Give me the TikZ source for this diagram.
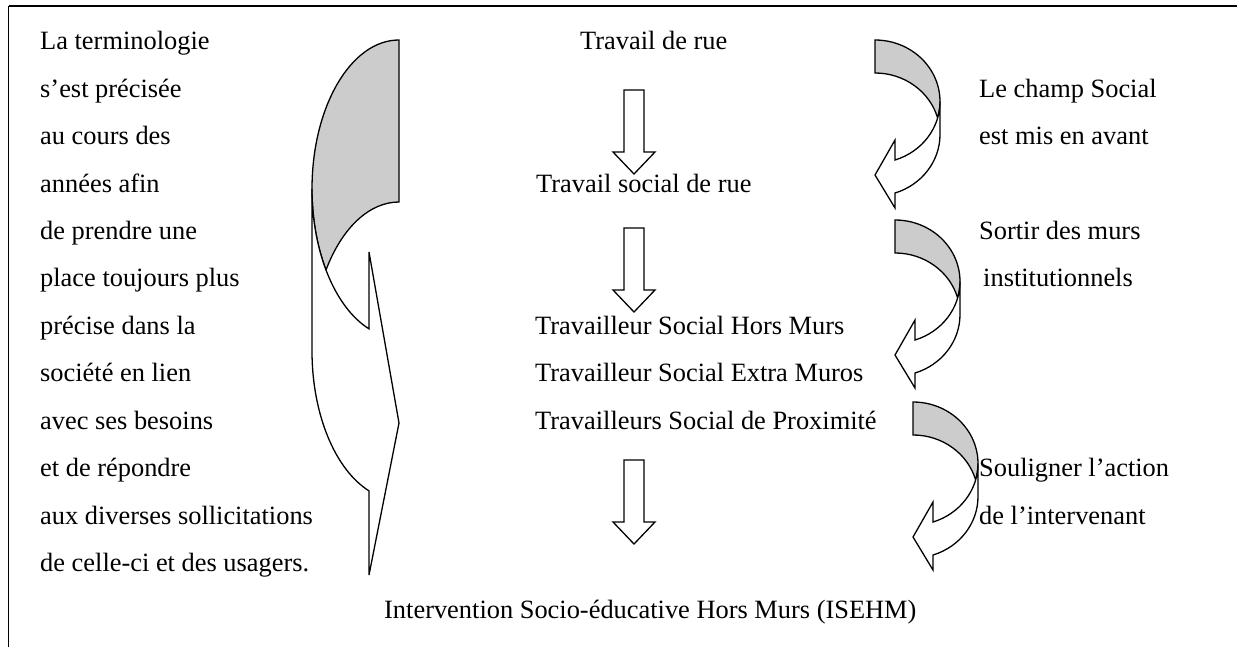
\documentclass[tikz,border=0pt]{standalone}
\usepackage{fontspec}
\setmainfont{Liberation Serif}
\definecolor{shade}{RGB}{204,204,204}
\begin{document}
\begin{tikzpicture}[x=1pt,y=1pt,
  shp/.style={draw=black, line width=1.3pt, line join=miter},
  txt/.style={inner sep=0pt, anchor=base west, font=\fontsize{26.4}{30}\selectfont},
  rarrow/.pic={
    \filldraw[shp, fill=shade] (0,0) arc[start angle=90, end angle=-15.56, x radius=65pt, y radius=61.5pt]
       arc[start angle=15.56, end angle=90, x radius=65pt, y radius=61.5pt] -- cycle;
    \filldraw[shp, fill=white] (65,-61.5) arc[start angle=0, end angle=-72.08, x radius=65pt, y radius=61.5pt]
       -- (20,-100) -- (0,-135) -- (20,-168) -- (20,-153.02)
       arc[start angle=-72.08, end angle=0, x radius=65pt, y radius=61.5pt] -- cycle;
  },
  larrow/.pic={
    \filldraw[shp, fill=shade] (0,0) arc[start angle=90, end angle=212.93, x radius=87pt, y radius=149pt]
       arc[start angle=147.07, end angle=90, x radius=87pt, y radius=149pt] -- cycle;
    \filldraw[shp, fill=white] (-87,-149) arc[start angle=180, end angle=249.83, x radius=87pt, y radius=149pt]
       -- (-30,-212) -- (0,-383) -- (-30,-535) -- (-30,-450.87)
       arc[start angle=249.83, end angle=180, x radius=87pt, y radius=149pt] -- cycle;
  },
  darrow/.pic={
    \filldraw[shp, fill=white] (-10,0) -- (10,0) -- (10,-62) -- (21,-62) -- (0,-84) -- (-21,-62) -- (-10,-62) -- cycle;
  }
]
\useasboundingbox (0,0) rectangle (1237,-647);
% frame
\draw[line width=2pt] (8.5,-6) -- (1237,-6);
\draw[line width=1.5pt] (8.5,-6) -- (8.5,-647);

% left column
\node[txt] (l1) at (40,-50) {La terminologie};
\node[txt] (l2) at (40,-97.4) {s’est précisée};
\node[txt] (l3) at (40,-144.8) {au cours des};
\node[txt] (l4) at (40,-192.2) {années afin};
\node[txt] (l5) at (40,-239.6) {de prendre une};
\node[txt] (l6) at (40,-287) {place toujours plus};
\node[txt] (l7) at (40,-334.4) {précise dans la};
\node[txt] (l8) at (40,-381.8) {société en lien};
\node[txt] (l9) at (40,-429.2) {avec ses besoins};
\node[txt] (l10) at (40,-476.6) {et de répondre};
\node[txt] (l11) at (40,-524) {aux diverses sollicitations};
\node[txt] (l12) at (40,-571.4) {de celle-ci et des usagers.};

% centre column
\node[txt] (c1) at (580,-50) {Travail de rue};
\node[txt] (c2) at (536,-192.2) {Travail social de rue};
\node[txt] (c3) at (535,-334.4) {Travailleur Social Hors Murs};
\node[txt] (c4) at (535,-381.8) {Travailleur Social Extra Muros};
\node[txt] (c5) at (535,-429.2) {Travailleurs Social de Proximité};
\node[txt] (c6) at (384,-618.8) {Intervention Socio-éducative Hors Murs (ISEHM)};

% right column
\node[txt] (r1) at (979,-97.4) {Le champ Social};
\node[txt] (r2) at (979,-144.8) {est mis en avant};
\node[txt] (r3) at (979,-239.6) {Sortir des murs};
\node[txt] (r4) at (983,-287) {institutionnels};
\node[txt] (r5) at (979,-476.6) {Souligner l’action};
\node[txt] (r6) at (979,-524) {de l’intervenant};

% down arrows
\pic at (634,-90) {darrow};
\pic at (634,-228) {darrow};
\pic at (634,-460) {darrow};

% curved arrows
\pic at (399,-40) {larrow};
\pic at (875,-40) {rarrow};
\pic at (895,-220) {rarrow};
\pic at (913,-402) {rarrow};
\end{tikzpicture}
\end{document}
